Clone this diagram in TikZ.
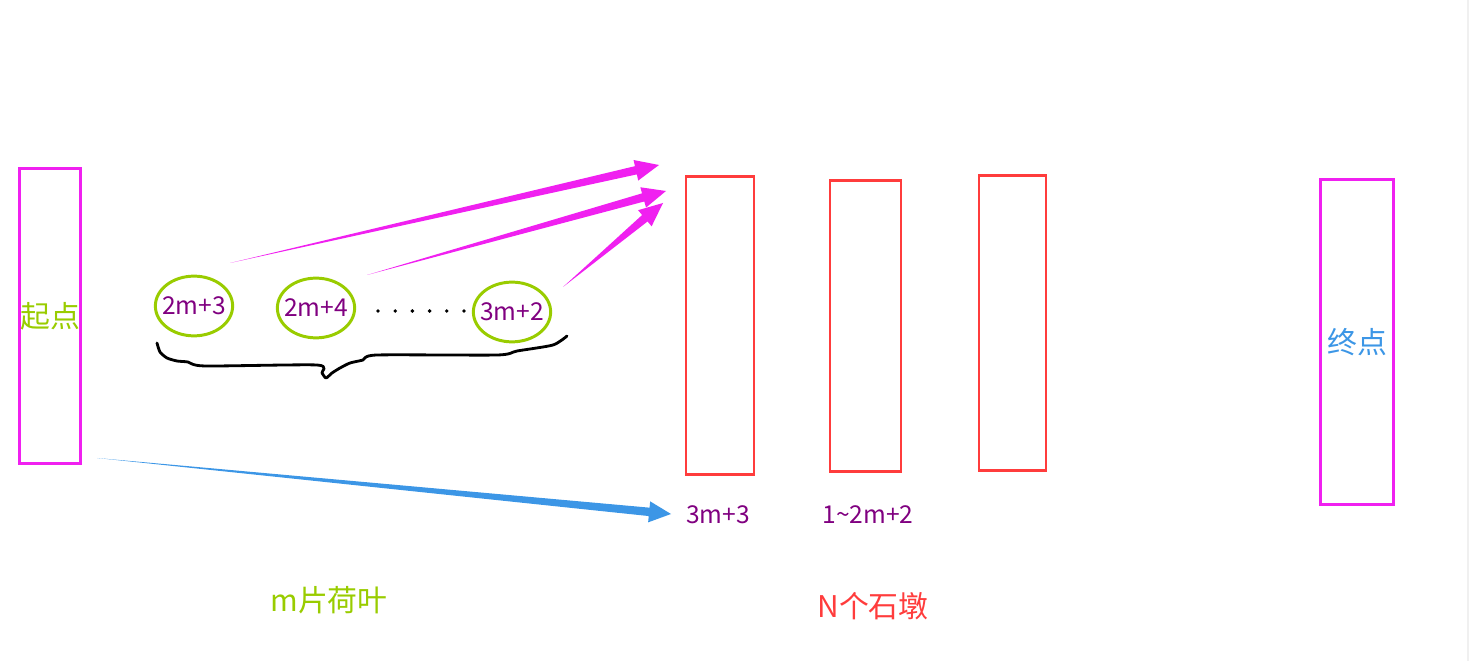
\documentclass[tikz,border=0pt]{standalone}
\usepackage{fontspec}
\setmainfont{Noto Sans CJK SC}
\usetikzlibrary{shapes.geometric, calc}
\definecolor{padmagenta}{RGB}{240,32,240}
\definecolor{lotusgreen}{RGB}{153,204,0}
\definecolor{pierred}{RGB}{255,60,60}
\definecolor{numpurple}{RGB}{128,0,128}
\definecolor{goalblue}{RGB}{60,150,230}
% tapered arrow: colour, from, to, body half width, head half width, head length
\newcommand\taperarrow[6]{%
  \coordinate (ta-b) at ($(#3)!#6!(#2)$);
  \fill[#1] (#2) -- ($(ta-b)!#4!90:(#3)$) -- ($(ta-b)!#5!90:(#3)$) -- (#3)
    -- ($(ta-b)!#5!-90:(#3)$) -- ($(ta-b)!#4!-90:(#3)$) -- cycle;
}

\begin{document}
\begin{tikzpicture}[x=0.02cm, y=-0.02cm,
    gatebox/.style={draw=padmagenta, line width=1.7pt, inner sep=0pt,
      font=\fontsize{17}{20}\selectfont},
    pier/.style={draw=pierred, line width=1.3pt, inner sep=0pt,
      minimum width=38.6pt, minimum height=168pt},
    leaf/.style={ellipse, draw=lotusgreen, line width=1.7pt, inner xsep=-6pt, inner ysep=-2pt,
      minimum width=44pt, minimum height=34pt, text=numpurple,
      font=\fontsize{14}{16}\selectfont},
    numlabel/.style={text=numpurple, font=\fontsize{14}{16}\selectfont},
    caption/.style={font=\fontsize{17}{20}\selectfont}]
   \useasboundingbox (0,0) rectangle (1469,661);
   \draw[gray!12, line width=0.6pt] (1468,0) -- (1468,661);

   % 起点 与 终点
   \node[gatebox, text=lotusgreen, minimum width=35.2pt, minimum height=167.8pt] (start) at (50,316) {起点};
   \node[gatebox, text=goalblue, minimum width=42pt, minimum height=184.8pt] (goal) at (1357,342) {终点};

   % 荷叶
   \node[leaf] (leaf_1) at (194,306) {2m+3};
   \node[leaf] (leaf_2) at (316,308) {2m+4};
   \node[leaf] (leaf_3) at (512,312) {3m+2};
   \foreach \dx in {0,1,...,5}
     \fill (378+17.2*\dx,311) circle (1.1pt);

   % 大括号
   \draw[line width=1.6pt, line join=round, line cap=round] plot[smooth, tension=0.4] coordinates
     {(157,343) (160,352) (167,358) (177,361) (188,362) (205,366) (317,365) (322,373)
      (326,378) (332,373) (340,368) (350,363) (363,360) (377,355) (497,355) (517,351)
      (553,345) (567,336)};

   % 石墩
   \node[pier, minimum height=169.5pt] (pier_1) at (720,325.5) {};
   \node[pier, minimum width=40.3pt, minimum height=165.6pt] (pier_2) at (865.5,326) {};
   \node[pier, minimum width=38pt, minimum height=167.8pt] (pier_3) at (1012.5,323) {};

   \node[numlabel] (lab_1) at (718,515) {3m+3};
   \node[numlabel] (lab_2) at (868,515) {1\textasciitilde 2m+2};
   \node[caption, text=lotusgreen] (cap_leaf) at (329,600) {m片荷叶};
   \node[caption, text=pierred] (cap_pier) at (873,606) {N个石墩};

   % 箭头
   \coordinate (from_1) at (230,263);
   \coordinate (to_1) at (659,165);
   \coordinate (from_2) at (367,275);
   \coordinate (to_2) at (666,191);
   \coordinate (from_3) at (563,287);
   \coordinate (to_3) at (663,203);
   \coordinate (from_s) at (97,458);
   \coordinate (to_s) at (671,514);
   \taperarrow{padmagenta}{from_1}{to_1}{2.4pt}{6pt}{13.5pt}
   \taperarrow{padmagenta}{from_2}{to_2}{2.4pt}{6pt}{13.5pt}
   \taperarrow{padmagenta}{from_3}{to_3}{2.4pt}{6pt}{13.5pt}
   \taperarrow{goalblue}{from_s}{to_s}{2.4pt}{6pt}{12.5pt}
\end{tikzpicture}
\end{document}
